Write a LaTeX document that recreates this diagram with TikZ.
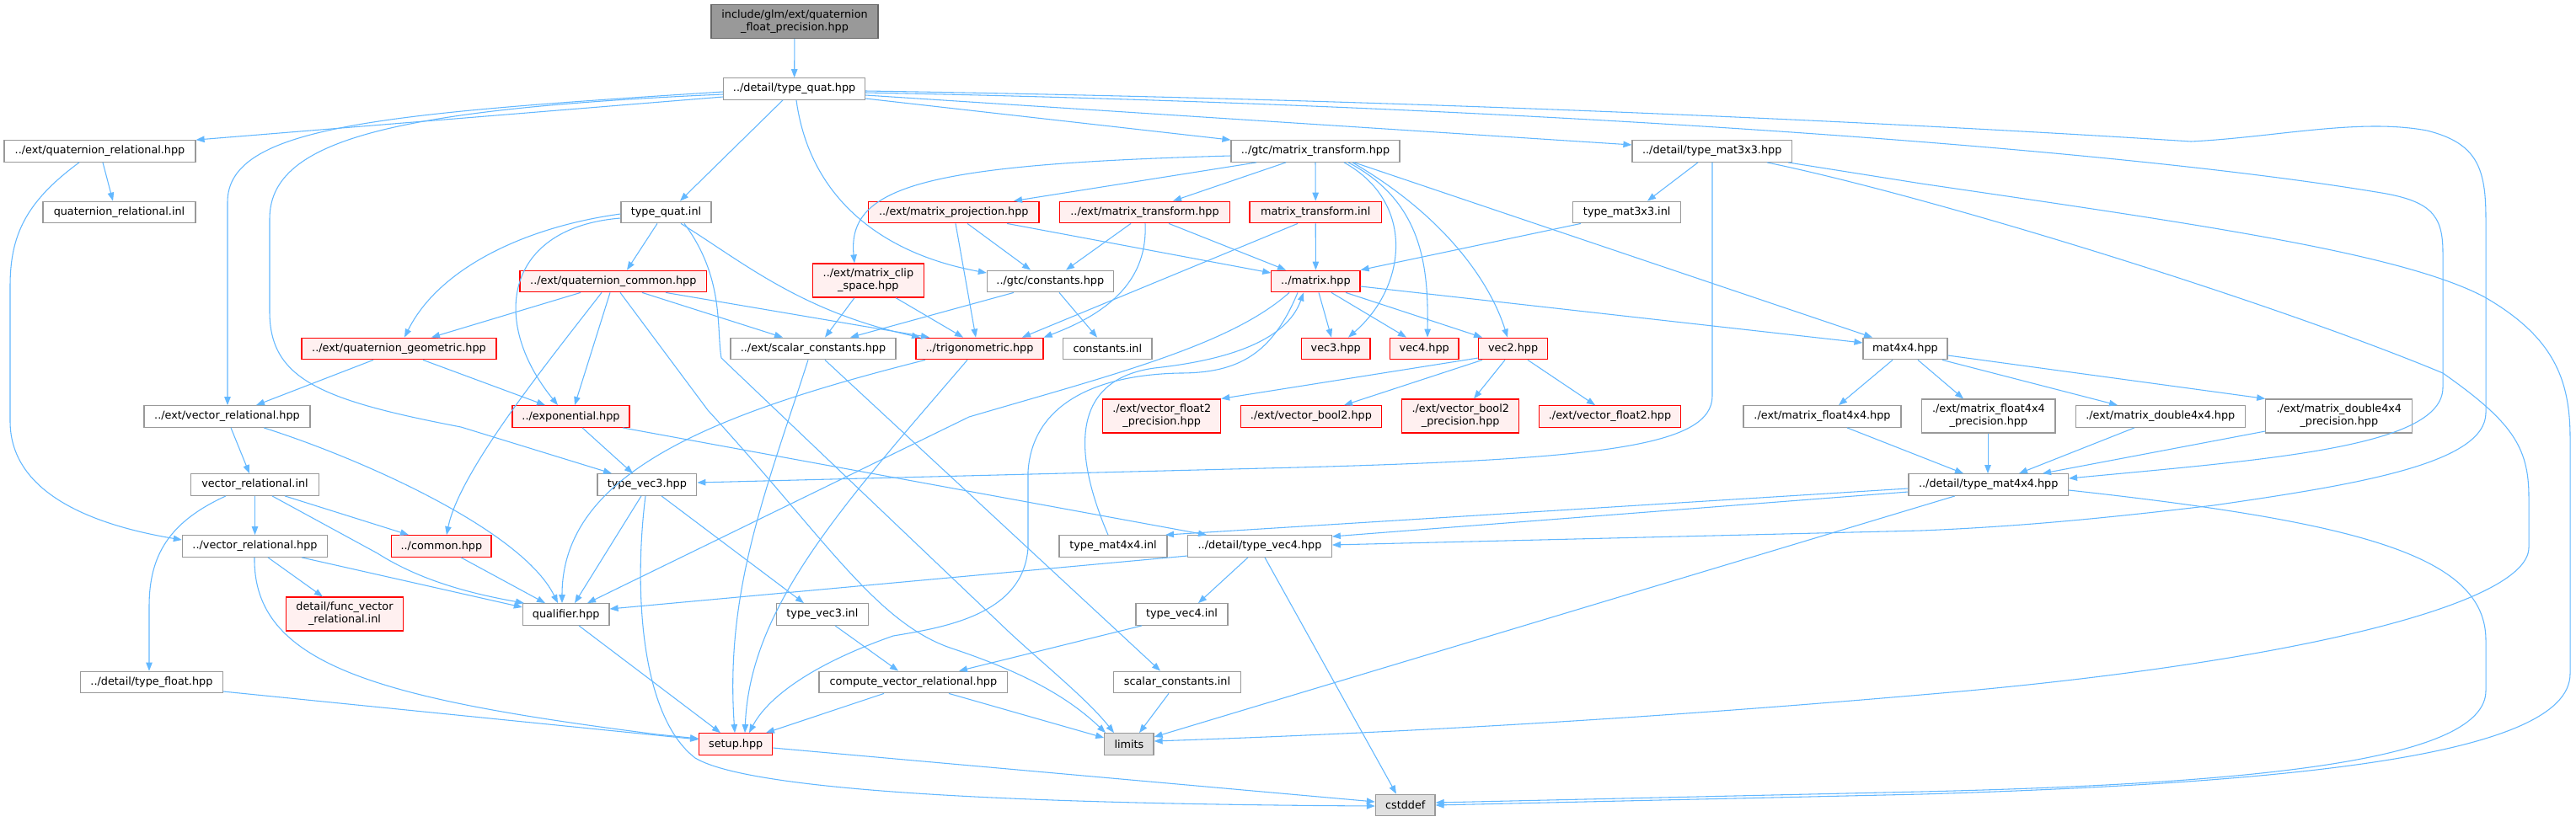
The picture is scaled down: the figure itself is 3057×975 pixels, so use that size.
\documentclass[tikz,border=0pt]{standalone}
\usepackage{fontspec}
\setmainfont{DejaVu Sans}
\usetikzlibrary{arrows.meta}
\definecolor{edgec}{HTML}{63B8FF}
\definecolor{nodeb}{HTML}{999999}
\definecolor{topb}{HTML}{666666}
\definecolor{topfill}{HTML}{999999}
\definecolor{redfill}{HTML}{FFF0F0}
\definecolor{redb}{HTML}{FF0000}
\definecolor{extfill}{HTML}{E0E0E0}
\newcommand\nfont{\fontsize{9.6pt}{11.25pt}\selectfont}
\tikzset{
 nb/.style={draw=nodeb, fill=white, line width=0.9pt, inner sep=0pt, minimum height=19.2pt, font=\nfont, align=center, text=black},
 nred/.style={nb, draw=redb, fill=redfill},
 next/.style={nb, fill=extfill},
 ntop/.style={nb, draw=topb, fill=topfill},
 tall/.style={minimum height=30pt},
 e/.style={draw=edgec, line width=0.8pt, -{Triangle[length=7.5pt,width=5.6pt]}},
}
\begin{document}
\begin{tikzpicture}[x=0.75pt,y=-0.75pt]
\useasboundingbox (0,0) rectangle (3057,975);
\fill[white] (0,0) rectangle (3057,975);
% nodes
\node[ntop,tall,minimum width=148.5pt] (top) at (943,25.5) {include/glm/ext/quaternion\\\_float\_precision.hpp};
\node[nb,minimum width=126pt] (tq) at (942.6,105.5) {../detail/type\_quat.hpp};
\node[nb,minimum width=170.25pt] (qrh) at (118.5,179.5) {../ext/quaternion\_relational.hpp};
\node[nb,minimum width=150pt] (gmt) at (1561,179.5) {../gtc/matrix\_transform.hpp};
\node[nb,minimum width=142.1pt] (m33) at (2031.7,179.5) {../detail/type\_mat3x3.hpp};
\node[nb,minimum width=135.75pt] (qri) at (141.5,252) {quaternion\_relational.inl};
\node[nb,minimum width=80.25pt] (tqi) at (790.5,252) {type\_quat.inl};
\node[nred,minimum width=151.8pt] (mpj) at (1131.8,252) {../ext/matrix\_projection.hpp};
\node[nred,minimum width=151.5pt] (mtr) at (1358.5,252) {../ext/matrix\_transform.hpp};
\node[nred,minimum width=117.3pt] (mti) at (1561.2,252) {matrix\_transform.inl};
\node[nb,minimum width=95.85pt] (m33i) at (1930.7,252) {type\_mat3x3.inl};
\node[nred,minimum width=166.2pt] (qcm) at (727.8,334) {../ext/quaternion\_common.hpp};
\node[nred,tall,minimum width=98.85pt] (mcl) at (1030.4,333) {../ext/matrix\_clip\\\_space.hpp};
\node[nb,minimum width=112.35pt] (gcs) at (1246.3,334) {../gtc/constants.hpp};
\node[nred,minimum width=78.9pt] (mtx) at (1561.4,334) {../matrix.hpp};
\node[nred,minimum width=173.25pt] (qgm) at (473.5,414) {../ext/quaternion\_geometric.hpp};
\node[nb,minimum width=147pt] (scs) at (965,414) {../ext/scalar\_constants.hpp};
\node[nred,minimum width=113.25pt] (trg) at (1162.5,414) {../trigonometric.hpp};
\node[nb,minimum width=79.1pt] (csi) at (1314.3,414) {constants.inl};
\node[nred,minimum width=61.2pt] (v3) at (1585.2,414) {vec3.hpp};
\node[nred,minimum width=61.2pt] (v4) at (1690.2,414) {vec4.hpp};
\node[nred,minimum width=61.2pt] (v2) at (1795.6,414) {vec2.hpp};
\node[nb,minimum width=75pt] (m44h) at (2261,414) {mat4x4.hpp};
\node[nb,minimum width=147.75pt] (evr) at (269.5,494.5) {../ext/vector\_relational.hpp};
\node[nred,minimum width=104.25pt] (exn) at (677.5,494.5) {../exponential.hpp};
\node[nred,tall,minimum width=104.85pt] (vf2p) at (1378.7,494) {./ext/vector\_float2\\\_precision.hpp};
\node[nred,minimum width=125.25pt] (vb2) at (1555.9,494.5) {./ext/vector\_bool2.hpp};
\node[nred,tall,minimum width=104.1pt] (vb2p) at (1733.2,494) {./ext/vector\_bool2\\\_precision.hpp};
\node[nred,minimum width=126pt] (vf2) at (1910.5,494.5) {./ext/vector\_float2.hpp};
\node[nb,minimum width=140.25pt] (mf44) at (2162.5,494.5) {./ext/matrix\_float4x4.hpp};
\node[nb,tall,minimum width=118.7pt] (mf44p) at (2359.9,494) {./ext/matrix\_float4x4\\\_precision.hpp};
\node[nb,minimum width=151.1pt] (md44) at (2563.8,494.5) {./ext/matrix\_double4x4.hpp};
\node[nb,tall,minimum width=130.5pt] (md44p) at (2775.8,494) {./ext/matrix\_double4x4\\\_precision.hpp};
\node[nb,minimum width=114.15pt] (vri) at (302.5,575.5) {vector\_relational.inl};
\node[nb,minimum width=88.3pt] (tv3) at (767.9,575.5) {type\_vec3.hpp};
\node[nb,minimum width=142.05pt] (m44) at (2359.7,575.5) {../detail/type\_mat4x4.hpp};
\node[nb,minimum width=129.15pt] (vrh) at (302.5,648.5) {../vector\_relational.hpp};
\node[nred,minimum width=88.7pt] (cmn) at (523.9,648.5) {../common.hpp};
\node[nb,minimum width=96pt] (m44i) at (1321,648.5) {type\_mat4x4.inl};
\node[nb,minimum width=127.9pt] (tv4) at (1495,648.5) {../detail/type\_vec4.hpp};
\node[nb,minimum width=76.9pt] (qlf) at (671.7,729.5) {qualifier.hpp};
\node[nb,minimum width=82.05pt] (tv3i) at (975.9,729.5) {type\_vec3.inl};
\node[nb,minimum width=81.75pt] (tv4i) at (1402.5,729.5) {type\_vec4.inl};
\node[nred,tall,minimum width=104.5pt] (fvr) at (409,729) {detail/func\_vector\\\_relational.inl};
\node[nb,minimum width=126.5pt] (tfl) at (179.9,810) {../detail/type\_float.hpp};
\node[nb,minimum width=167.85pt] (cvr) at (1083.9,810) {compute\_vector\_relational.hpp};
\node[nb,minimum width=113pt] (sci) at (1397,810) {scalar\_constants.inl};
\node[nred,minimum width=65.25pt] (stp) at (873.2,883.5) {setup.hpp};
\node[next,minimum width=43.7pt] (lim) at (1339.9,883.5) {limits};
\node[next,minimum width=52.95pt] (csd) at (1667.7,956) {cstddef};
% edges
\draw[e] (top) -- (tq);
\draw[e] (tq.west |- 0,115) -- (qrh.north east);
\draw[e] (tq.west |- 0,109) .. controls (450,135) and (270,150) .. (270,240) -- (evr.north -| 270,0);
\draw[e] (tq.west |- 0,112) .. controls (450,130) and (320,170) .. (320,260) -- (320,370) .. controls (320,450) and (380,475) .. (547,507) -- (tv3.north -| 726,0);
\draw[e] (tq.south -| 929,0) -- (tqi.north -| 807,0);
\draw[e] (tq.south -| 945,0) .. controls (960,230) and (1040,300) .. (gcs.west |- 0,324);
\draw[e] (tq.east |- 0,117) -- (gmt.north west);
\draw[e] (tq.east |- 0,113) -- (m33.west |- 0,172);
\draw[e] (tq.east |- 0,110) .. controls (1800,125) and (2500,175) .. (2820,228) .. controls (2885,238) and (2899,255) .. (2899,300) -- (2899,460) .. controls (2899,530) and (2700,545) .. (m44.east |- 0,568);
\draw[e] (tq.east |- 0,108) .. controls (1800,120) and (2400,155) .. (2600,168) .. controls (2700,163) and (2800,140) .. (2880,155) .. controls (2940,170) and (2950,200) .. (2950,260) -- (2950,490) .. controls (2950,550) and (2800,575) .. (2627,600) .. controls (2500,615) and (2400,625) .. (2280,630) -- (tv4.east |- 0,647);
\draw[e] (qrh.south -| 122,0) -- (qri.north -| 134,0);
\draw[e] (qrh.south -| 94,0) .. controls (30,240) and (12,280) .. (12,340) -- (12,500) .. controls (12,590) and (120,625) .. (vrh.west |- 0,641);
\draw[e] (tqi.west |- 0,254) .. controls (620,270) and (520,320) .. (qgm.north -| 480,0);
\draw[e] (tqi.west |- 0,259) .. controls (600,270) and (580,380) .. (exn.north -| 662,0);
\draw[e] (tqi.south -| 780,0) -- (qcm.north -| 744,0);
\draw[e] (tqi.south -| 808,0) .. controls (880,310) and (950,370) .. (trg.north -| 1092,0);
\draw[e] (tqi.south -| 812,0) .. controls (860,330) and (850,390) .. (856,425) -- (1197,750) .. controls (1240,790) and (1290,830) .. (lim.north -| 1322,0);
\draw[e] (qcm.south -| 689,0) -- (qgm.north -| 512,0);
\draw[e] (qcm.south -| 714,0) .. controls (650,430) and (545,560) .. (cmn.north -| 530,0);
\draw[e] (qcm.south -| 724,0) -- (exn.north -| 682,0);
\draw[e] (qcm.south -| 762,0) -- (scs.north -| 929,0);
\draw[e] (qcm.south -| 790,0) -- (trg.north -| 1103,0);
\draw[e] (qcm.south -| 736,0) -- (840,487) .. controls (980,640) and (1040,740) .. (1130,770) .. controls (1220,800) and (1270,830) .. (lim.north -| 1312,0);
\draw[e] (qgm.south -| 443,0) -- (evr.north -| 304,0);
\draw[e] (qgm.south -| 502,0) -- (exn.north -| 647,0);
\draw[e] (evr.south -| 274,0) -- (vri.north -| 296,0);
\draw[e] (evr.south -| 313,0) .. controls (430,545) and (620,630) .. (qlf.north -| 662,0);
\draw[e] (exn.south -| 691,0) -- (tv3.north -| 751,0);
\draw[e] (exn.south -| 739,0) -- (tv4.north -| 1432,0);
\draw[e] (vri.south -| 268,0) .. controls (200,620) and (177,660) .. (177,720) -- (tfl.north -| 177,0);
\draw[e] (vri.south) -- (vrh.north);
\draw[e] (vri.south -| 323,0) -- (448,657) .. controls (500,690) and (560,705) .. (qlf.north -| 622,0);
\draw[e] (vri.south -| 338,0) -- (cmn.north -| 485,0);
\draw[e] (vrh.south -| 318,0) -- (fvr.north -| 383,0);
\draw[e] (vrh.south -| 358,0) -- (qlf.west |- 0,721);
\draw[e] (vrh.south -| 302,0) .. controls (300,790) and (450,830) .. (780,872) -- (stp.west |- 0,877);
\draw[e] (cmn.south -| 547,0) -- (qlf.north -| 647,0);
\draw[e] (tfl.east |- 0,821) -- (stp.west |- 0,878);
\draw[e] (qlf.south -| 687,0) -- (stp.north -| 855,0);
\draw[e] (tv3.south -| 761,0) -- (qlf.north -| 682,0);
\draw[e] (tv3.south -| 785,0) -- (tv3i.north -| 954,0);
\draw[e] (tv3.south -| 766,0) .. controls (752,700) and (760,850) .. (825,900) .. controls (900,945) and (1300,955) .. (csd.west |- 0,957);
\draw[e] (tv3i.south -| 991,0) -- (cvr.north -| 1066,0);
\draw[e] (cvr.south -| 1049,0) -- (stp.north -| 909,0);
\draw[e] (cvr.south -| 1126,0) -- (lim.west |- 0,876);
\draw[e] (stp.east |- 0,888) -- (csd.west |- 0,952);
\draw[e] (sci.south -| 1387,0) -- (lim.north -| 1352,0);
\draw[e] (tv4.west |- 0,660) -- (qlf.east |- 0,723);
\draw[e] (tv4.south -| 1481,0) -- (tv4i.north -| 1422,0);
\draw[e] (tv4.south -| 1501,0) -- (csd.north -| 1657,0);
\draw[e] (tv4i.south -| 1355,0) -- (cvr.north -| 1138,0);
\draw[e] (m44i.north -| 1315,0) .. controls (1270,530) and (1275,450) .. (1370,437) .. controls (1480,425) and (1530,395) .. (mtx.south -| 1547,0);
\draw[e] (mtx.south -| 1565,0) -- (v3.north -| 1580,0);
\draw[e] (mtx.south -| 1580,0) -- (v4.north -| 1669,0);
\draw[e] (mtx.south -| 1597,0) -- (v2.north -| 1759,0);
\draw[e] (mtx.east |- 0,340) -- (m44h.west |- 0,407);
\draw[e] (mtx.south -| 1530,0) .. controls (1460,410) and (1320,445) .. (1150,495) -- (qlf.north -| 697,0);
\draw[e] (mtx.south -| 1540,0) .. controls (1510,420) and (1470,443) .. (1400,443) .. controls (1300,445) and (1225,480) .. (1220,560) -- (1220,650) .. controls (1215,730) and (1120,745) .. (1060,755) .. controls (960,790) and (910,830) .. (stp.north -| 889,0);
\draw[e] (m33i.south -| 1876,0) -- (mtx.north east);
\draw[e] (mti.south) -- (mtx.north);
\draw[e] (mti.south -| 1540,0) -- (trg.north -| 1213,0);
\draw[e] (mtr.south -| 1342,0) -- (gcs.north -| 1265,0);
\draw[e] (mtr.south -| 1359,0) .. controls (1362,330) and (1320,370) .. (trg.north east);
\draw[e] (mtr.south -| 1387,0) -- (mtx.north -| 1526,0);
\draw[e] (mpj.south -| 1148,0) -- (gcs.north -| 1223,0);
\draw[e] (mpj.south -| 1134,0) -- (trg.north -| 1158,0);
\draw[e] (mpj.south -| 1195,0) -- (mtx.west |- 0,324);
\draw[e] (mcl.south -| 1014,0) -- (scs.north -| 979,0);
\draw[e] (mcl.south -| 1063,0) -- (trg.north -| 1143,0);
\draw[e] (gcs.south -| 1203,0) -- (scs.north -| 1009,0);
\draw[e] (gcs.south -| 1257,0) -- (csi.north -| 1302,0);
\draw[e] (scs.south -| 959,0) .. controls (910,580) and (860,700) .. (stp.north -| 872,0);
\draw[e] (scs.south -| 979,0) -- (sci.north -| 1377,0);
\draw[e] (trg.south -| 1098,0) .. controls (850,490) and (667,560) .. (qlf.north -| 667,0);
\draw[e] (trg.south -| 1148,0) .. controls (1000,600) and (890,720) .. (stp.north -| 884,0);
\draw[e] (gmt.west |- 0,185) .. controls (1100,195) and (1005,220) .. (mcl.north -| 1014,0);
\draw[e] (gmt.south -| 1491,0) -- (mpj.north -| 1203,0);
\draw[e] (gmt.south -| 1526,0) -- (mtr.north -| 1392,0);
\draw[e] (gmt.south) -- (mti.north);
\draw[e] (gmt.south -| 1595,0) .. controls (1680,240) and (1670,340) .. (v3.north -| 1600,0);
\draw[e] (gmt.south -| 1600,0) .. controls (1690,240) and (1695,320) .. (v4.north -| 1694,0);
\draw[e] (gmt.south -| 1605,0) .. controls (1720,260) and (1770,340) .. (v2.north -| 1789,0);
\draw[e] (gmt.south -| 1607,0) -- (m44h.north -| 2222,0);
\draw[e] (m33.south -| 2015,0) -- (m33i.north -| 1955,0);
\draw[e] (m33.south -| 2032,0) -- (2032,470) .. controls (2032,530) and (1900,545) .. (1540,555) -- (tv3.east |- 0,573);
\draw[e] (m33.south -| 2097,0) .. controls (2300,235) and (2700,360) .. (2899,443) .. controls (2980,500) and (3001,530) .. (3001,590) -- (3001,650) .. controls (3001,720) and (2700,790) .. (2280,825) .. controls (1900,858) and (1600,872) .. (lim.east |- 0,880);
\draw[e] (m33.south -| 2122,0) -- (2280,218) .. controls (2600,265) and (2850,300) .. (2949,353) .. controls (3030,400) and (3050,450) .. (3050,520) -- (3050,800) .. controls (3050,900) and (2700,930) .. (2280,943) -- (csd.east |- 0,956);
\draw[e] (m44.west |- 0,580) -- (m44i.north -| 1383,0);
\draw[e] (m44.west |- 0,584) -- (tv4.east |- 0,637);
\draw[e] (m44.south -| 2320,0) -- (lim.east |- 0,875);
\draw[e] (m44.east |- 0,582) .. controls (2800,620) and (2950,660) .. (2950,760) -- (2950,820) .. controls (2950,900) and (2700,930) .. (2280,940) -- (csd.east |- 0,953);
\draw[e] (mf44.south -| 2192,0) -- (m44.north -| 2330,0);
\draw[e] (mf44p.south -| 2359,0) -- (m44.north -| 2359,0);
\draw[e] (md44.south -| 2533,0) -- (m44.north -| 2396,0);
\draw[e] (md44p.west |- 0,512) -- (m44.north -| 2424,0);
\draw[e] (m44h.south -| 2246,0) -- (mf44.north -| 2182,0);
\draw[e] (m44h.south -| 2276,0) -- (mf44p.north -| 2330,0);
\draw[e] (m44h.south -| 2305,0) -- (md44.north -| 2513,0);
\draw[e] (m44h.east |- 0,422) -- (md44p.north west);
\draw[e] (v2.west |- 0,425) -- (vf2p.north east);
\draw[e] (v2.south -| 1759,0) -- (vb2.north -| 1595,0);
\draw[e] (v2.south -| 1786,0) -- (vb2p.north -| 1749,0);
\draw[e] (v2.south -| 1813,0) -- (vf2.north -| 1893,0);
\end{tikzpicture}
\end{document}
